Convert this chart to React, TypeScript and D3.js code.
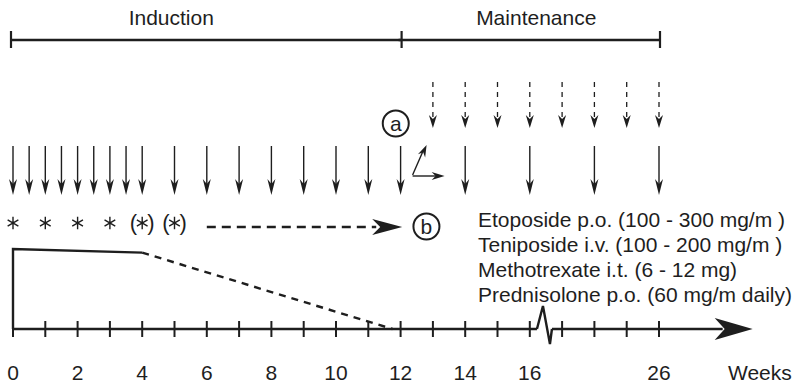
import React from "react";
import * as d3 from "d3";

// ---- data ----
const phases = [
  { name: "Induction", start: 0, end: 12, labelWeek: 4.9 },
  { name: "Maintenance", start: 12, end: 26, labelWeek: 16.2 },
];
const solidArrowWeeks = [0, 0.5, 1, 1.5, 2, 2.5, 3, 3.5, 4, 5, 6, 7, 8, 9, 10, 11, 12, 14, 16, 24, 26];
const dashedArrowWeeks = [13, 14, 15, 16, 23, 24, 25, 26];
const asteriskWeeks = [0, 1, 2, 3];
const optionalAsteriskWeeks = [4, 5];
const prednisoloneSolid = [
  { week: 0, level: 0 },
  { week: 0, level: 1 },
  { week: 4, level: 0.955 },
];
const prednisoloneTaper = [
  { week: 4, level: 0.955 },
  { week: 11.75, level: 0 },
];
const tickWeeks = [0, 1, 2, 3, 4, 5, 6, 7, 8, 9, 10, 11, 12, 13, 14, 15, 16, 23, 24, 25, 26];
const tickLabelWeeks = [0, 2, 4, 6, 8, 10, 12, 14, 16, 26];
const breakWeek = 16.5;
const axisEndWeek = 28.9;
const drugLines = [
  "Etoposide p.o. (100 - 300 mg/m )",
  "Teniposide i.v. (100 - 200 mg/m )",
  "Methotrexate i.t. (6 - 12 mg)",
  "Prednisolone p.o. (60 mg/m daily)",
];
const axisLabel = "Weeks";
const markA = { label: "a", week: 11.85 };
const markB = { label: "b", week: 12.8 };
const bArrow = { from: 6.0, to: 12.05 };

// ---- scales ----
const pxPerWeek = 32.3;
const x0 = 13;
const x = d3
  .scaleLinear()
  .domain([0, breakWeek, breakWeek + 6, 40])
  .range([x0, x0 + breakWeek * pxPerWeek, x0 + breakWeek * pxPerWeek, x0 + 34 * pxPerWeek]);
const axisY = 329;
const yLevel = d3.scaleLinear().domain([0, 1]).range([axisY, 249]);

const INK = "#1e1e1e";
const FONT = "'Liberation Sans', Arial, Helvetica, sans-serif";
const FS = 21;

function downHead(cx: number, tip: number, L: number, W: number, N: number) {
  return `M${cx},${tip} L${cx - W},${tip - L} L${cx},${tip - L + N} L${cx + W},${tip - L} Z`;
}
function rightHead(tipX: number, cy: number, L: number, W: number, N: number) {
  return `M${tipX},${cy} L${tipX - L},${cy - W} L${tipX - L + N},${cy} L${tipX - L},${cy + W} Z`;
}
function headAlong(x1: number, y1: number, x2: number, y2: number, L: number, W: number, N: number) {
  const a = Math.atan2(y2 - y1, x2 - x1);
  const c = Math.cos(a), s = Math.sin(a);
  const p = (u: number, v: number) => `${x2 + u * c - v * s},${y2 + u * s + v * c}`;
  return `M${p(0, 0)} L${p(-L, -W)} L${p(-L + N, 0)} L${p(-L, W)} Z`;
}
function asterisk(cx: number, cy: number, r: number) {
  let d = "";
  [90, 30, 150].forEach((deg) => {
    const a = (deg * Math.PI) / 180;
    d += `M${cx - r * Math.cos(a)},${cy - r * Math.sin(a)} L${cx + r * Math.cos(a)},${cy + r * Math.sin(a)} `;
  });
  return d;
}

export default function App() {
  const lineGen = d3
    .line<{ week: number; level: number }>()
    .x((d) => x(d.week))
    .y((d) => yLevel(d.level));

  const bracketY = 40;
  const solidTop = 146;
  const solidTip = 195;
  const dashTop = 82;
  const dashTip = 128;
  const astY = 223;
  const xb = x(breakWeek);
  const x12 = x(12);
  const boundaries = Array.from(new Set(phases.flatMap((p) => [p.start, p.end])));

  return (
    <svg
      width={795}
      height={386}
      style={{ position: "absolute", left: 0, top: 0, background: "#fff" }}
      fontFamily={FONT}
    >
      {/* phase brackets */}
      {phases.map((p) => (
        <g key={p.name}>
          <line x1={x(p.start) - 2} x2={x(p.end) + 1} y1={bracketY} y2={bracketY} stroke={INK} strokeWidth={2.5} />
          <text x={x(p.labelWeek)} y={25} textAnchor="middle" fontSize={FS} fill={INK}>
            {p.name}
          </text>
        </g>
      ))}
      {boundaries.map((w, i) => (
        <line
          key={"b" + i}
          x1={x(w) + (w === 0 ? -2 : 1)}
          x2={x(w) + (w === 0 ? -2 : 1)}
          y1={bracketY - 9}
          y2={bracketY + 8}
          stroke={INK}
          strokeWidth={2.2}
        />
      ))}

      {/* dashed (maintenance) arrows */}
      {dashedArrowWeeks.map((w, i) => (
        <g key={"d" + i}>
          <line x1={x(w)} x2={x(w)} y1={dashTop} y2={dashTip - 8} stroke={INK} strokeWidth={1.3} strokeDasharray="5,5" />
          <path d={downHead(x(w), dashTip, 13, 4, 4)} fill={INK} />
        </g>
      ))}

      {/* solid arrows */}
      {solidArrowWeeks.map((w, i) => (
        <g key={"s" + i}>
          <line x1={x(w)} x2={x(w)} y1={solidTop} y2={solidTip - 8} stroke={INK} strokeWidth={1.4} />
          <path d={downHead(x(w), solidTip, 16, 4, 5)} fill={INK} />
        </g>
      ))}

      {/* circled a */}
      <circle cx={x(markA.week)} cy={123.5} r={13} fill="none" stroke={INK} strokeWidth={2} />
      <text x={x(markA.week)} y={130.5} textAnchor="middle" fontSize={FS} fill={INK}>
        {markA.label}
      </text>

      {/* small arrows at week 12 */}
      <line x1={x12 + 12} y1={175} x2={x12 + 22} y2={152} stroke={INK} strokeWidth={1.4} />
      <path d={headAlong(x12 + 12, 175, x12 + 26, 145, 12, 4, 4)} fill={INK} />
      <line x1={x12 + 12} y1={176} x2={x12 + 36} y2={176} stroke={INK} strokeWidth={1.4} />
      <path d={rightHead(x12 + 44, 176, 13, 4, 4)} fill={INK} />

      {/* asterisks */}
      {asteriskWeeks.map((w, i) => (
        <path key={"a" + i} d={asterisk(x(w), astY, 6.2)} stroke={INK} strokeWidth={1.4} fill="none" />
      ))}
      {optionalAsteriskWeeks.map((w, i) => (
        <g key={"o" + i}>
          <path d={asterisk(x(w), astY, 6.2)} stroke={INK} strokeWidth={1.4} fill="none" />
          <text x={x(w) - 5} y={astY + 7} textAnchor="end" fontSize={22} fill={INK}>(</text>
          <text x={x(w) + 5} y={astY + 7} textAnchor="start" fontSize={22} fill={INK}>)</text>
        </g>
      ))}

      {/* dashed arrow to b */}
      <line x1={x(bArrow.from)} x2={x(bArrow.to) - 26} y1={astY + 4} y2={astY + 4} stroke={INK} strokeWidth={2.4} strokeDasharray="9,6" />
      <path d={rightHead(x(bArrow.to), astY + 4, 30, 8, 8)} fill={INK} />
      <circle cx={x(markB.week)} cy={astY + 3.5} r={13} fill="none" stroke={INK} strokeWidth={2} />
      <text x={x(markB.week)} y={astY + 11} textAnchor="middle" fontSize={FS} fill={INK}>
        {markB.label}
      </text>

      {/* drug text */}
      {drugLines.map((t, i) => (
        <text key={"t" + i} x={478} y={227 + i * 25} fontSize={FS} fill={INK}>
          {t}
        </text>
      ))}

      {/* prednisolone */}
      <path d={lineGen(prednisoloneSolid) || ""} fill="none" stroke={INK} strokeWidth={2.4} />
      <path d={lineGen(prednisoloneTaper) || ""} fill="none" stroke={INK} strokeWidth={2.4} strokeDasharray="7,6" />

      {/* axis */}
      <line x1={x(0)} x2={xb - 9} y1={axisY} y2={axisY} stroke={INK} strokeWidth={2.6} />
      <path
        d={`M${xb - 9},${axisY} L${xb - 3},${axisY - 23} L${xb + 4},${axisY + 15} L${xb + 6},${axisY}`}
        fill="none"
        stroke={INK}
        strokeWidth={2.4}
        strokeLinejoin="miter"
      />
      <line x1={xb + 6} x2={x(axisEndWeek) - 30} y1={axisY} y2={axisY} stroke={INK} strokeWidth={2.6} />
      <path d={rightHead(x(axisEndWeek), axisY, 38, 11, 10)} fill={INK} />
      {tickWeeks.map((w, i) => (
        <line key={"k" + i} x1={x(w)} x2={x(w)} y1={axisY - 8} y2={axisY + 8} stroke={INK} strokeWidth={2} />
      ))}
      {tickLabelWeeks.map((w, i) => (
        <text key={"l" + i} x={x(w)} y={380} textAnchor="middle" fontSize={FS} fill={INK}>
          {w}
        </text>
      ))}
      <text x={728} y={380} fontSize={FS} fill={INK}>
        {axisLabel}
      </text>
    </svg>
  );
}
